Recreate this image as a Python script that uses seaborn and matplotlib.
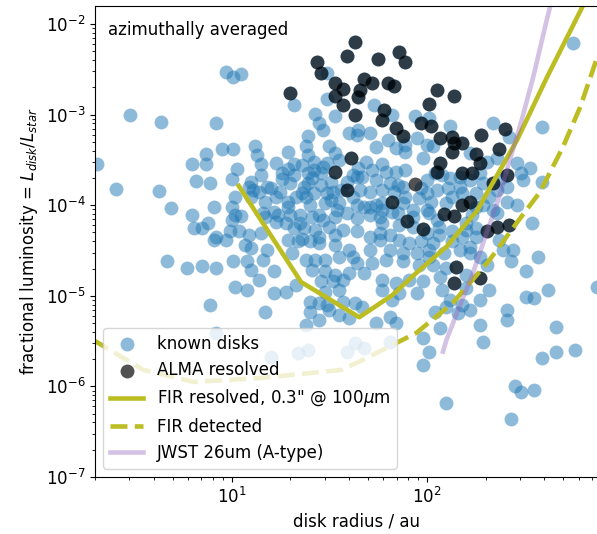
import numpy as np
import matplotlib
matplotlib.use("Agg")
import matplotlib.pyplot as plt
import seaborn as sns

# ---------------- data (log10 radius [au], log10 fractional luminosity) ----------------
known_disks_log = [
    (0.97,-2.53),(1.01,-2.58),(1.05,-2.55),(0.48,-3.00),(0.64,-3.08),(0.92,-3.09),(0.31,-3.55),(0.95,-3.38),(1.01,-3.38),(0.87,-3.43),
    (0.80,-3.55),(0.87,-3.55),(1.12,-3.35),(1.13,-3.45),(1.15,-3.55),(1.23,-3.53),(1.29,-3.41),(1.03,-3.60),(0.82,-3.73),(0.89,-3.75),
    (1.00,-3.71),(0.41,-3.82),(0.63,-3.84),(1.10,-3.74),(1.15,-3.67),(1.32,-2.89),(1.49,-2.54),(1.49,-2.83),(1.53,-3.01),(1.43,-2.99),
    (1.45,-3.09),(1.47,-3.17),(1.39,-3.24),(1.38,-3.35),(1.50,-3.35),(1.53,-3.42),(1.39,-3.45),(1.42,-3.52),(1.36,-3.56),(1.32,-3.67),
    (1.26,-3.64),(1.39,-3.64),(1.46,-3.64),(1.49,-3.53),(1.55,-3.50),(1.30,-3.75),(1.39,-3.75),(1.46,-3.78),(1.51,-3.74),(1.36,-3.87),
    (1.42,-3.87),(1.49,-3.87),(1.56,-3.83),(1.25,-3.85),(1.18,-3.80),(1.11,-3.83),
    (1.64,-3.23),(1.20,-3.81),(1.26,-3.71),(1.29,-3.60),(1.42,-3.61),(1.41,-3.70),(1.37,-3.80),(1.59,-3.74),(1.62,-3.67),(1.02,-3.91),
    (1.00,-4.02),(0.91,-4.02),(0.80,-4.11),(1.09,-3.80),(1.10,-3.91),(1.14,-3.85),(1.17,-3.96),(1.23,-3.91),(1.33,-3.91),(1.29,-4.02),
    (1.38,-3.91),(1.52,-3.85),(1.40,-4.00),(1.48,-3.98),(1.55,-3.98),(1.62,-3.91),(1.59,-4.09),(1.02,-4.11),(1.16,-4.09),(1.24,-4.11),
    (1.35,-4.11),(1.45,-4.11),
    (0.81,-4.25),(0.85,-4.25),(0.88,-4.20),(0.92,-4.35),(0.97,-4.38),(0.91,-4.38),(1.00,-4.16),(1.05,-4.12),(1.04,-4.29),(0.99,-4.29),
    (1.09,-4.33),(1.07,-4.44),(1.10,-4.47),(1.15,-4.31),(1.18,-4.49),(1.16,-4.60),(1.08,-4.62),(1.10,-4.72),(1.01,-4.62),(0.77,-4.69),
    (0.85,-4.67),(0.92,-4.69),(0.67,-4.62),(0.69,-4.03),(1.14,-4.83),(1.22,-4.73),(1.02,-4.90),(1.08,-4.94),(1.22,-4.97),(1.28,-4.96),
    (1.33,-4.88),(0.89,-5.10),(1.17,-5.18),
    (1.17,-4.13),(1.23,-4.18),(1.28,-4.20),(1.41,-4.13),(1.53,-4.13),(1.32,-4.25),(1.37,-4.25),(1.43,-4.27),(1.50,-4.24),(1.57,-4.27),
    (1.64,-4.29),(1.29,-4.38),(1.34,-4.40),(1.40,-4.40),(1.45,-4.42),(1.53,-4.44),(1.60,-4.49),(1.31,-4.53),(1.38,-4.60),(1.43,-4.60),
    (1.48,-4.60),(1.55,-4.57),(1.62,-4.57),(1.41,-4.72),(1.48,-4.73),(1.53,-4.77),(1.60,-4.75),(1.46,-4.84),(1.52,-4.84),(1.57,-4.83),
    (1.48,-4.96),(1.55,-4.94),(1.40,-5.07),(1.45,-5.08),(1.49,-5.10),(1.57,-5.07),(1.63,-5.08),(1.40,-5.18),(1.45,-5.27),(1.38,-5.32),
    (1.50,-5.16),(1.55,-5.21),(1.60,-5.25),
    (1.64,-4.14),(1.71,-4.11),(1.77,-4.20),(1.82,-4.07),(1.93,-4.13),(2.01,-4.09),(2.06,-4.33),(2.03,-4.42),(1.97,-4.40),(1.91,-4.42),
    (1.86,-4.38),(1.81,-4.33),(1.76,-4.38),(1.71,-4.35),(1.71,-4.49),(1.81,-4.49),(1.88,-4.53),(1.95,-4.53),(2.01,-4.57),(2.09,-4.53),
    (2.17,-4.49),(2.22,-4.46),(2.13,-4.40),(2.18,-4.35),(2.25,-4.35),(2.25,-4.25),(2.20,-4.20),(2.23,-4.11),(2.36,-4.09),(2.37,-4.38),
    (2.44,-4.49),(2.43,-4.62),(2.51,-4.73),(1.64,-4.64),(1.72,-4.64),(1.79,-4.60),(1.88,-4.62),(1.96,-4.66),(2.03,-4.66),(2.10,-4.69),
    (2.07,-4.79),(2.20,-4.77),(2.31,-4.66),(1.68,-4.75),(1.77,-4.83),(1.84,-4.86),(1.91,-4.83),(1.98,-4.84),(1.77,-4.94),(1.86,-4.97),
    (1.95,-4.97),(2.08,-4.94),(2.20,-4.91),(2.32,-4.94),(1.82,-5.05),(1.67,-5.12),(2.12,-5.05),(2.10,-5.12),(2.27,-5.05),(2.18,-5.10),
    (2.22,-5.16),(2.41,-5.16),(1.81,-5.23),(1.84,-5.30),(1.74,-5.30),(2.04,-5.18),(2.07,-5.36),(2.16,-5.19),(2.27,-5.32),(2.41,-5.27),
    (2.54,-4.20),(2.57,-4.57),(2.51,-5.01),(2.55,-5.02),(2.62,-4.94),(2.66,-5.34),(2.29,-5.51),(1.98,-5.47),(2.01,-5.62),(1.98,-5.76),
    (2.59,-5.69),(2.66,-5.62),(2.76,-5.60),(2.45,-6.00),(2.48,-6.06),(2.55,-6.04),(2.10,-6.18),(2.43,-6.36),(2.87,-4.90),
    (0.92,-5.41),(1.20,-5.67),(1.34,-5.63),(1.39,-5.60),(1.59,-5.62),(1.63,-5.52),(1.68,-5.58),(1.81,-5.51),
    (1.73,-2.89),(1.82,-3.00),(1.60,-3.20),(1.65,-3.17),(1.71,-3.20),(1.80,-3.28),(1.74,-3.36),(1.84,-3.37),(1.89,-3.34),(1.95,-3.26),
    (2.00,-3.34),(2.03,-3.35),(2.12,-3.13),(2.01,-3.04),(1.94,-3.02),(2.34,-3.09),(1.98,-3.48),(1.89,-3.61),(1.84,-3.63),(1.79,-3.63),
    (1.74,-3.72),(1.69,-3.52),(1.72,-3.61),(1.64,-3.69),(1.66,-3.83),(1.77,-3.83),(1.81,-3.76),(1.88,-3.80),(2.00,-3.72),(2.04,-3.64),
    (2.11,-3.81),(2.05,-3.83),(1.97,-3.81),(2.17,-3.80),(2.22,-3.72),(2.31,-3.52),(2.36,-3.48),(2.46,-3.53),(2.48,-3.64),(2.49,-3.72),
    (2.36,-3.83),(2.41,-3.80),(1.64,-4.00),(1.71,-4.02),(1.77,-3.98),(1.88,-3.98),(1.96,-3.92),(2.02,-3.96),(1.93,-4.05),(2.00,-4.05),
    (2.10,-3.98),(2.18,-3.87),(2.25,-3.87),(2.29,-4.00),(2.34,-4.05),(2.41,-3.96),(2.46,-4.00),
    (2.75,-2.21),(2.59,-3.14),(2.53,-3.59),(2.59,-3.74),(2.42,-3.25),(2.22,-3.42),
    (1.32,-3.54),(1.47,-3.58),(1.77,-3.54),(1.65,-3.59),(1.67,-3.69),(1.71,-3.85),(1.85,-3.78),(1.29,-3.96),(1.51,-3.94),(1.68,-4.02),
    (1.74,-4.00),(1.77,-4.05),(1.85,-4.09),(1.22,-4.07),(1.30,-4.11),(1.47,-4.16),(1.54,-4.05),(1.35,-4.20),(1.76,-4.31),(1.36,-4.37),
    (1.45,-4.35),(1.53,-4.33),
    (1.89,-3.41),(2.12,-3.70),(2.08,-3.67),(2.17,-3.69),(2.27,-3.65),(2.29,-3.76),(2.38,-3.70),(1.83,-3.85),(1.89,-3.91),(2.00,-3.87),
    (2.05,-4.16),(2.13,-3.91),(2.25,-4.02),(2.32,-3.91),(1.76,-4.13),(1.86,-4.22),(1.93,-4.24),(2.00,-4.31),(2.06,-4.24),(2.13,-4.29),
    (2.20,-4.27),(2.01,-4.49),(2.22,-4.53),(2.27,-4.57),(2.39,-4.49),
]

# ALMA-resolved disks (these are also known disks)
alma_resolved_log = [
    (1.63,-2.20),(1.59,-2.35),(1.75,-2.39),(1.86,-2.31),(1.89,-2.42),(1.53,-2.65),(1.57,-2.72),(1.53,-2.80),(1.57,-2.89),(1.68,-2.61),
    (1.72,-2.65),(1.66,-2.73),(1.65,-2.81),(1.80,-2.65),(1.83,-2.68),(1.63,-3.00),(1.78,-2.95),(1.77,-3.06),(1.84,-3.15),(2.05,-2.73),
    (2.14,-2.79),(2.01,-2.88),(1.97,-3.09),(2.02,-3.13),(1.88,-3.24),(2.07,-3.26),(2.13,-3.25),(2.14,-3.31),(2.18,-3.31),(2.13,-3.41),
    (2.25,-3.43),(2.27,-3.53),(2.28,-3.23),(2.40,-3.16),(2.37,-3.38),(2.07,-3.53),(2.05,-3.63),(2.18,-3.64),(2.23,-3.64),(2.34,-3.76),
    (2.41,-3.67),(1.61,-3.48),(1.53,-3.63),(1.59,-3.83),(2.22,-3.96),(1.44,-2.42),(1.46,-2.54),(1.30,-2.76),(1.82,-3.96),(2.09,-4.10),
    (2.18,-4.00),(2.14,-4.12),(1.90,-4.17),(1.98,-4.26),(2.31,-4.29),(2.36,-4.24),(2.42,-4.22),(2.15,-4.68),(2.14,-4.86),(2.27,-4.80),
]
# ALMA-resolved disk not in the known-disk sample
alma_only_log = [(1.94,-3.77)]

# sensitivity curves (radius in au, fractional luminosity)
fir_resolved_radius = [10.9, 22.7, 45.1, 66.7, 88.4, 126, 182, 194, 290, 413, 640]
fir_resolved_flum = [1.63e-4, 1.42e-5, 5.8e-6, 1.02e-5, 1.79e-5, 3.48e-5, 8.85e-5, 1.14e-4, 5.25e-4, 2.6e-3, 1.7e-2]

fir_detected_radius = [1.96, 3.54, 6.4, 14.2, 36.5, 46.8, 88.5, 135.6, 210, 289, 380, 498, 610, 746]
fir_detected_flum = [3.25e-6, 1.52e-6, 1.12e-6, 1.24e-6, 1.52e-6, 1.95e-6, 3.9e-6, 8.3e-6, 2.5e-5,
                     6.4e-5, 1.4e-4, 4.4e-4, 1.21e-3, 4.3e-3]

jwst_radius = [121, 126, 147, 172, 194, 232, 266, 306, 351, 411, 434]
jwst_flum = [2.42e-6, 3.25e-6, 7.6e-6, 1.77e-5, 3.8e-5, 1.14e-4, 3.15e-4, 8.7e-4, 2.62e-3, 1.1e-2, 1.75e-2]

# ---------------- derived arrays ----------------
known_r = 10 ** np.array([p[0] for p in known_disks_log])
known_f = 10 ** np.array([p[1] for p in known_disks_log])
alma_r = 10 ** np.array([p[0] for p in alma_resolved_log])
alma_f = 10 ** np.array([p[1] for p in alma_resolved_log])
alma_only_r = 10 ** np.array([p[0] for p in alma_only_log])
alma_only_f = 10 ** np.array([p[1] for p in alma_only_log])

all_known_r = np.concatenate([known_r, alma_r])
all_known_f = np.concatenate([known_f, alma_f])
all_alma_r = np.concatenate([alma_r, alma_only_r])
all_alma_f = np.concatenate([alma_f, alma_only_f])

# ---------------- plot ----------------
plt.rcParams['font.size'] = 12
fig = plt.figure(figsize=(5.97, 5.34), dpi=100)
x_lo, x_hi = 2, 950
decade_px = 195.3
ax_w = decade_px * np.log10(x_hi / x_lo)
ax = fig.add_axes([95/597, 57/534, ax_w/597, 471/534])
ax.set_xscale('log')
ax.set_yscale('log')

sns.scatterplot(x=all_known_r, y=all_known_f, color='tab:blue', alpha=0.5, s=100,
                linewidth=0, label='known disks', ax=ax)
sns.scatterplot(x=all_alma_r, y=all_alma_f, color='black', alpha=0.68, s=100,
                linewidth=0, label='ALMA resolved', ax=ax)
sns.lineplot(x=fir_resolved_radius, y=fir_resolved_flum, color='tab:olive', lw=3.3,
             estimator=None, sort=False, label='FIR resolved, 0.3" @ 100$\\mu$m', ax=ax)
sns.lineplot(x=fir_detected_radius, y=fir_detected_flum, color='tab:olive', lw=3.3,
             linestyle='--', estimator=None, sort=False, label='FIR detected', ax=ax)
sns.lineplot(x=jwst_radius, y=jwst_flum, color='tab:purple', alpha=0.4, lw=3.3,
             estimator=None, sort=False, label='JWST 26um (A-type)', ax=ax)

ax.set_xlim(x_lo, x_hi)
ax.set_ylim(1e-7, 1.58e-2)
ax.set_xlabel('disk radius / au')
ax.set_ylabel('fractional luminosity = $L_{disk}/L_{star}$')
ax.text(0.025 * 527 / ax_w, 0.95, 'azimuthally averaged', transform=ax.transAxes,
        ha='left', va='center', fontsize=12)
ax.legend(loc='lower left', fontsize=12)

fig.savefig('out.png', dpi=100)
